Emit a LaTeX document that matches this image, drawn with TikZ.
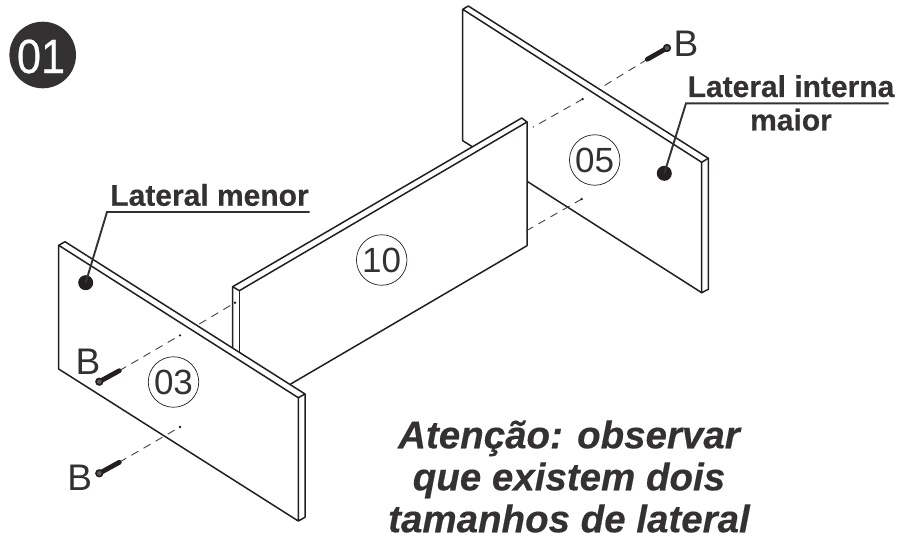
\documentclass[tikz,border=0pt]{standalone}
\usepackage{fontspec}
\setmainfont[BoldFeatures={FakeBold=0.35},BoldItalicFeatures={FakeBold=0.35}]{Liberation Sans}
\newfontfamily\badgefont[FakeBold=0.5]{Liberation Sans}
\definecolor{ink}{HTML}{231F20}
\definecolor{txt}{HTML}{333132}
\tikzset{
  x=1pt,y=-1pt,
  panel/.style={draw=ink,line width=1.5pt,line join=round,line cap=round},
  dashline/.style={draw=ink!85,line width=.9pt,dash pattern=on 8pt off 6pt},
  num/.style={circle,draw=ink,line width=.7pt,minimum size=50.5pt,inner sep=0pt,text=txt,font=\fontsize{35}{35}\selectfont},
  letter/.style={inner sep=0pt,text=txt,font=\fontsize{37}{37}\selectfont},
  tag/.style={inner sep=0pt,text=txt,font=\fontsize{30}{33.5}\selectfont\bfseries,align=center},
  leader/.style={draw=txt,line width=1.9pt,line join=miter},
  dot/.style={circle,fill=ink,inner sep=0pt,minimum size=15pt},
  screw/.style={draw=ink,line width=4.8pt,line cap=round},
  screwhead/.style={circle,draw=ink,fill=ink!75,line width=1.6pt,inner sep=0pt,minimum size=6.6pt},
  note/.style={inner sep=0pt,text=txt,font=\fontsize{38.5}{42}\selectfont\bfseries\itshape,align=center}
}
\begin{document}
\begin{tikzpicture}
\useasboundingbox (0,0) rectangle (914,539);
% panel 05
\draw[panel] (472.3,146.7) -- (462.7,140.7) -- (462.7,9.3) -- (468.3,6) -- (708.3,158.3) -- (708.3,289.3) -- (701.7,292.7) -- (701.7,162.3) -- (462.7,9.3);
\draw[panel] (701.7,162.3) -- (708.3,158.3);
\draw[panel] (527.7,181.7) -- (701.7,292.7);
% panel 10
\draw[panel] (232.7,347.3) -- (232.7,286.7) -- (521.7,118) -- (527,122) -- (527,245.7) -- (290.7,384);
\draw[panel] (232.7,286.7) -- (239.3,290.7) -- (527,122);
\draw[panel] (239.3,290.7) -- (239.3,352.3);
% panel 03
\draw[panel] (58.7,245.3) -- (65,241.7) -- (305,394) -- (305,517.3) -- (298.3,521) -- (298.3,397.7) -- (58.7,245.3) -- (58.7,369) -- (298.3,521);
\draw[panel] (298.3,397.7) -- (305,394);
% dashed fixing lines
\coordinate (s1) at (647.3,59.3);
\coordinate (s2) at (119.3,370.7);
\coordinate (s3) at (119.3,462.3);
\draw[dashline] (s1) -- (600,88.3);
\draw[dashline] (582.7,99) -- (532.7,127.3);
\draw[dashline] (581.7,199) -- (526,231);
\draw[dashline] (s2) -- (180,335.3);
\draw[dashline] (199.3,324) -- (235,302.7);
\draw[dashline] (s3) -- (180,427);
\foreach \p in {(582.7,99),(581.7,199),(180,335.3),(180,427),(235,302.7)}
  \fill[ink] \p circle (1.3pt);
% screws
\draw[screw] (s1) -- (666.7,48.3);
\node[screwhead] at (667,48) {};
\draw[screw] (s2) -- (99.3,381.7);
\node[screwhead] at (99.3,381.7) {};
\draw[screw] (s3) -- (99.3,473.3);
\node[screwhead] at (99.3,473.3) {};
% badge
\node[circle,fill=txt,minimum size=66.6pt,inner sep=0pt] (badge) at (42.7,55) {};
\node[inner sep=0pt,text=white,xscale=.9,font=\fontsize{48}{48}\badgefont] (badgetext) at (41,56.5) {01};
% numbers
\node[num] (n05) at (594.7,160) {05};
\node[num] (n10) at (381.7,260) {10};
\node[num] (n03) at (173.5,382) {03};
% letters
\node[letter] (b1) at (686,43.5) {B};
\node[letter] (b2) at (88,362) {B};
\node[letter] (b3) at (79.7,478) {B};
% labels
\node[tag] (lm) at (209.5,195) {Lateral menor};
\node[tag] (li) at (791,103) {Lateral interna\\maior};
\node[dot] (d1) at (85.7,282.7) {};
\node[dot] (d2) at (664.3,173.3) {};
\coordinate (k1) at (107,212);
\coordinate (k2) at (686,103.3);
\draw[leader] (d1.center) -- (k1) -- (309.5,212);
\draw[leader] (d2.center) -- (k2) -- (888.5,103.3);
% note
\node[note] (at) at (569,476.5) {Atenção: observar\\que existem dois\\tamanhos de lateral};
\end{tikzpicture}
\end{document}
